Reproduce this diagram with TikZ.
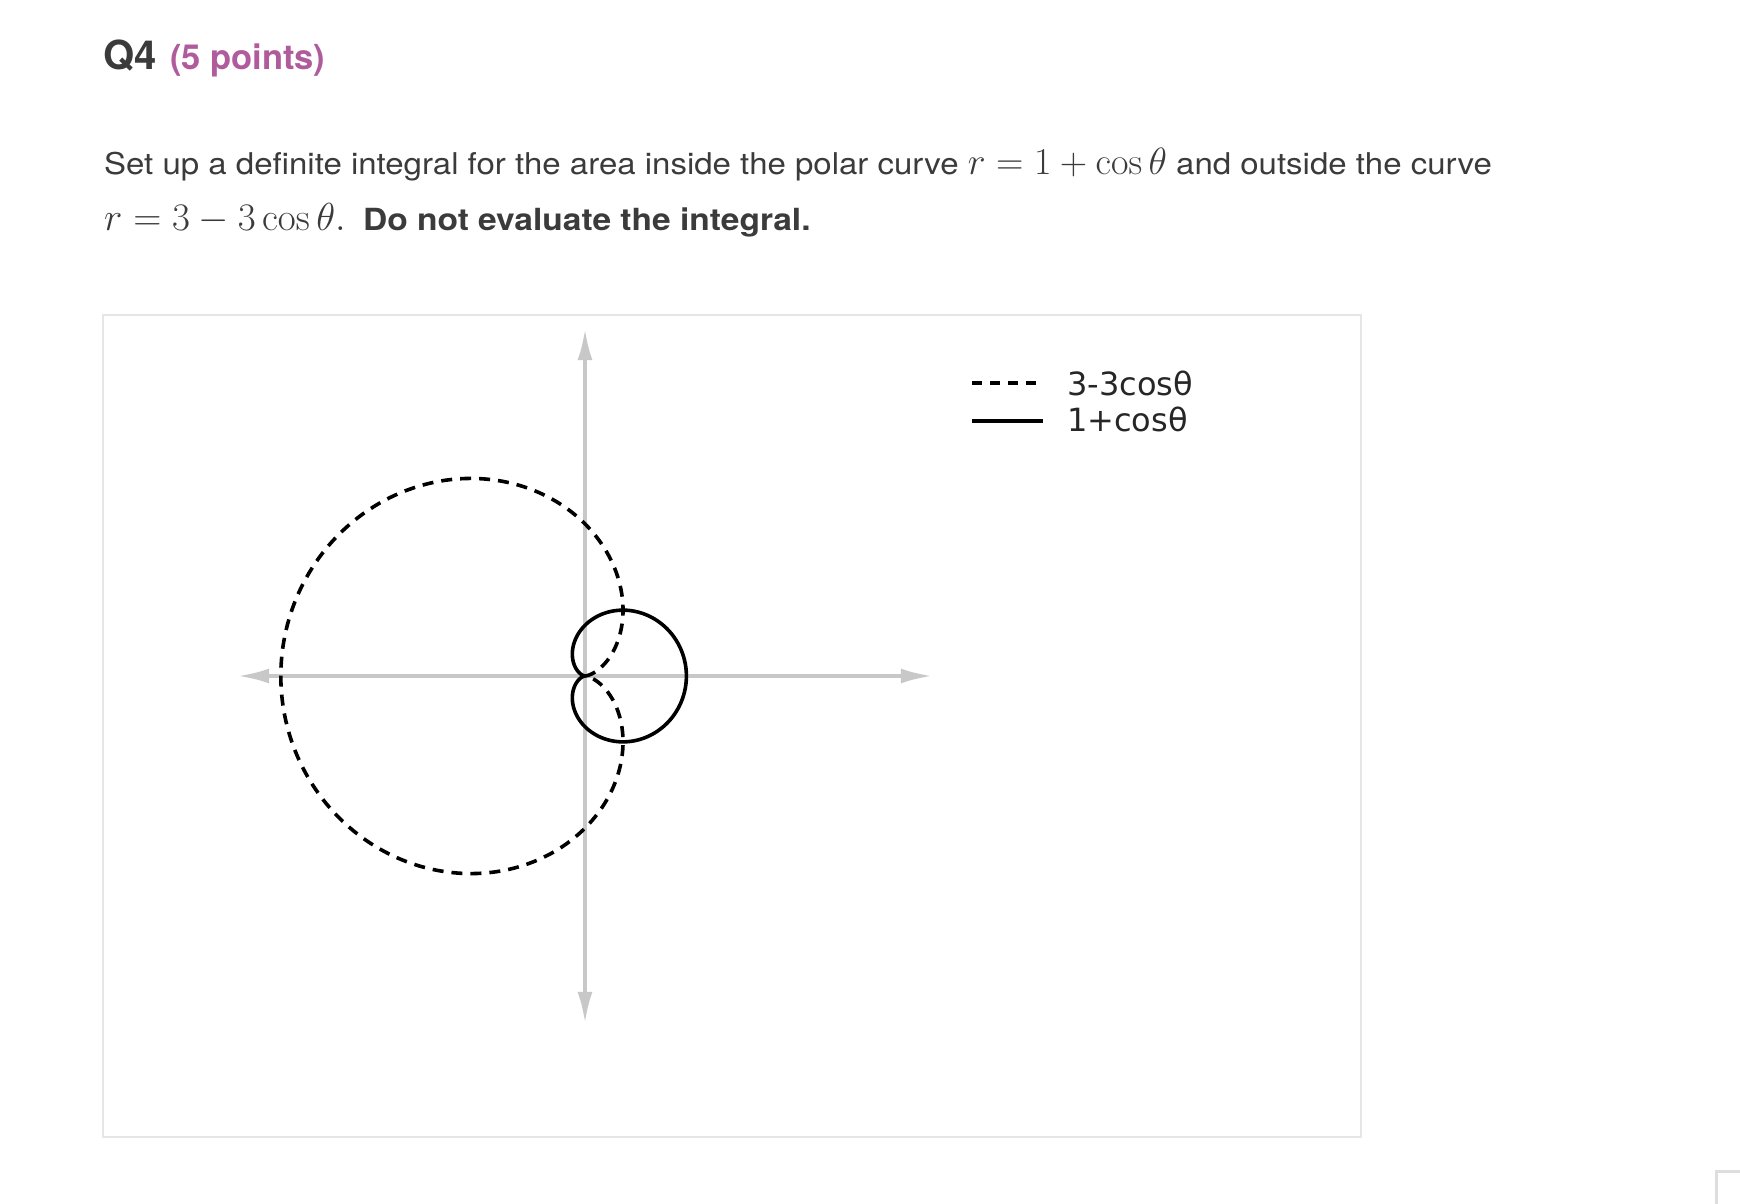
\RequirePackage{fix-cm}
\documentclass[tikz,border=0pt]{standalone}
\usepackage[no-math]{fontspec}
\setmainfont{TeX Gyre Heros}
\newfontfamily\body[FakeStretch=1.1]{TeX Gyre Heros}
\newfontfamily\dejavu{DejaVu Sans}
\usetikzlibrary{arrows.meta}
\definecolor{txt}{HTML}{3B3B3B}
\definecolor{pts}{HTML}{B05C9C}
\definecolor{axgray}{HTML}{C8C8C8}
\definecolor{frm}{HTML}{E6E6E6}

\begin{document}
\begin{tikzpicture}[x=1pt, y=-1pt,
every node/.style = {inner sep=0pt, anchor=base west, text=txt},
       ax/.style = {draw=axgray, line width=4pt,
                    {Latex[length=32pt,width=15pt]}-{Latex[length=32pt,width=15pt]}},
       cv/.style = {draw=black, line width=3.6pt},
      dsh/.style = {cv, dash pattern=on 11pt off 8pt},
      lgd/.style = {text=black!85, font=\dejavu\fontsize{32}{32}\selectfont},
       bd/.style = {font=\body\fontsize{30}{36}\selectfont}
                    ]
\path[use as bounding box] (0,0) rectangle (1740,1204);

\node (q)   at (103,69.3) {\fontsize{40}{40}\selectfont\bfseries Q4};
\node (pts) at (170,69.3) [text=pts] {\fontsize{34.5}{40}\selectfont\bfseries (5 points)};

\node (l1) at (104,174.5) [bd] {Set up a definite integral for the area inside the polar curve
    {\fontsize{38}{38}\selectfont$r = 1 + \cos\theta$} and outside the curve};
\node (l2) at (104,230.7) [bd] {{\fontsize{39}{38}\selectfont$r = 3 - 3\cos\theta.$}\hspace{8pt}
    {\fontsize{30.5}{36}\selectfont\bfseries Do not evaluate the integral.}};

\draw[frm, line width=2pt] (102.5,315) rectangle (1360.5,1136.5);
\draw[color=black!13, line width=3pt] (1740,1171) -- (1716,1171) -- (1716,1204);

\coordinate (o) at (585,676);
\begin{scope}[shift={(o)}, x=50.7pt, y=50.7pt]
  \coordinate (xl) at (-6.86,0);
  \coordinate (xr) at (6.86,0);
  \coordinate (yt) at (0,6.86);
  \coordinate (yb) at (0,-6.86);
  \draw[ax] (xl) -- (xr);
  \draw[ax] (yb) -- (yt);
  \draw[dsh] plot[domain=0:360, samples=240, smooth]
        ({(3-3*cos(\x))*cos(\x)}, {(3-3*cos(\x))*sin(\x)});
  \draw[cv] plot[domain=0:360, samples=240, smooth]
        ({(1+cos(\x))*cos(\x)}, {(1+cos(\x))*sin(\x)});
\end{scope}

\coordinate (d1) at (972,383.3);
\coordinate (d2) at (1040,383.3);
\coordinate (s1) at (972,420.7);
\coordinate (s2) at (1043,420.7);
\draw[dsh, line width=4pt, dash pattern=on 10pt off 8pt] (d1) -- (d2);
\draw[cv, line width=4pt] (s1) -- (s2);
\node (a) at (1067,395) [lgd] {3-3cosθ};
\node (b) at (1067,431.7) [lgd] {1+cosθ};
\end{tikzpicture}
\end{document}
